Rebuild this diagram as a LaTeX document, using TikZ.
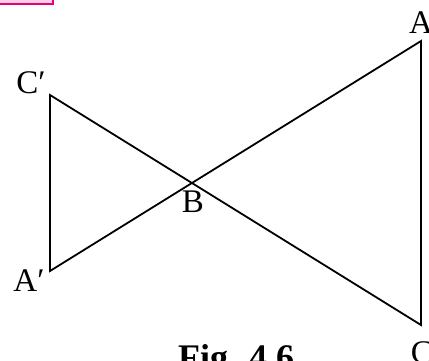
\documentclass[tikz,border=0pt]{standalone}
\usepackage{fontspec}
\setmainfont{Liberation Serif}
\definecolor{boxpink}{HTML}{E6007E}
\definecolor{boxfill}{HTML}{FAD0E4}
\begin{document}
\begin{tikzpicture}[x=1pt,y=-1pt,
  lbl/.style={font=\fontsize{33}{33}\selectfont, inner sep=0pt, anchor=center},
  fig/.style={draw, line width=1.8pt, line join=miter}]
\useasboundingbox (0,0) rectangle (429,360);
\fill[boxfill] (-10,-10) rectangle (53,4);
\draw[boxpink, line width=1.8pt] (-10,4) -- (53,4) -- (53,-10);
\coordinate (Cp) at (50,95);
\coordinate (Ap) at (50,271);
\coordinate (A) at (421,41);
\coordinate (C) at (421,325);
\path[fig] (Cp) -- (Ap) -- (A) -- (C) -- cycle;
\node[lbl] (lCp) at (31,83) {C′};
\node[lbl] (lAp) at (29,281) {A′};
\node[lbl] (lB) at (193,202) {B};
\node[lbl] (lA) at (421,23) {A};
\node[lbl] (lC) at (422,353) {C};
\node[font=\bfseries\fontsize{36}{36}\selectfont, inner sep=0pt, anchor=base west] (cap) at (178,369) {Fig. 4.6};
\end{tikzpicture}
\end{document}
